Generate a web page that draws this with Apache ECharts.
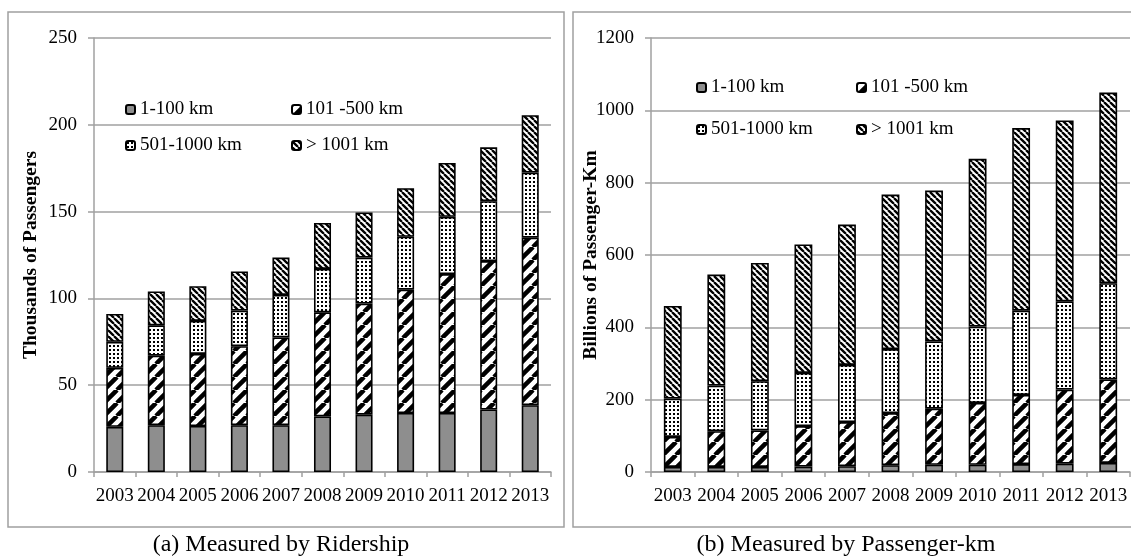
<!DOCTYPE html>
<html><head><meta charset="utf-8">
<script src="https://cdn.jsdelivr.net/npm/echarts@6/dist/echarts.min.js"></script>
<style>html,body{margin:0;padding:0;background:#fff}#c{width:1131px;height:556px}</style>
</head><body><div id="c"></div>
<script>
const years = ['2003','2004','2005','2006','2007','2008','2009','2010','2011','2012','2013'];
const seriesNames = ['1-100 km','101 -500 km','501-1000 km','> 1001 km'];
// (a) Ridership, thousands of passengers
const ride_1_100    = [26, 27, 26.5, 27, 27, 32, 33, 34, 34, 36, 38.5];
const ride_101_500  = [34, 40, 41.5, 45.5, 50.5, 60, 64, 71, 80, 85.5, 96.5];
const ride_501_1000 = [15, 17.5, 19, 20.5, 24.5, 25, 26.5, 30.5, 33, 34.5, 37.5];
const ride_1001     = [16, 19.5, 20, 22.5, 21.5, 26.5, 26, 28, 31, 31, 33];
// (b) Passenger-km, billions
const pkm_1_100    = [14, 14, 14, 15, 16, 19, 20, 20, 22, 23, 25];
const pkm_101_500  = [83, 99, 101, 112, 122, 144, 155, 171, 191, 205, 231];
const pkm_501_1000 = [106, 126, 136, 147, 158, 177, 186, 211, 233, 244, 266];
const pkm_1001     = [256, 307, 327, 355, 388, 427, 417, 464, 505, 500, 527];

function tile(size, draw){
  const c=document.createElement('canvas'); c.width=size; c.height=size;
  const g=c.getContext('2d'); g.fillStyle='#fff'; g.fillRect(0,0,size,size); draw(g,size);
  return {image:c, repeat:'repeat'};
}
const patGray = '#8e8e8e';
const patFwd = tile(13,(g,s)=>{g.strokeStyle='#000';g.lineWidth=4.5;g.beginPath();
  for(const x0 of [-s,0,s]){g.moveTo(x0,s);g.lineTo(x0+s,0);} g.stroke();});
const patDots = tile(4,(g,s)=>{g.fillStyle='#000';g.fillRect(1,1,2,2);});
const patBack = tile(6,(g,s)=>{g.strokeStyle='#000';g.lineWidth=2.3;g.beginPath();
  for(const x0 of [-s,0,s]){g.moveTo(x0,0);g.lineTo(x0+s,s);} g.stroke();});
const fills=[patGray,patFwd,patDots,patBack];

const FONT='"Liberation Serif", "Times New Roman", serif';
const chart=echarts.init(document.getElementById('c'),null,{renderer:'canvas'});

function mkSeries(datas, idx, stack){
  return datas.map((d,i)=>({
    name: seriesNames[i], type:'bar', stack, xAxisIndex:idx, yAxisIndex:idx,
    data:d, barWidth:'41%',
    itemStyle:{color:fills[i], borderColor:'#000', borderWidth:1.6},
    emphasis:{disabled:true}
  }));
}
function xAx(idx){return {type:'category', gridIndex:idx, data:years,
  axisLine:{lineStyle:{color:'#a0a0a0',width:1.5}},
  axisTick:{show:true, length:5, lineStyle:{color:'#a0a0a0',width:1.5}},
  axisLabel:{color:'#000', fontFamily:FONT, fontSize:19, margin:15, interval:0}};}
function yAx(idx,max,interval,name,gap){return {type:'value', gridIndex:idx, min:0, max, interval,
  name, nameLocation:'middle', nameGap:gap, nameMoveOverlap:false,
  nameTextStyle:{color:'#000', fontFamily:FONT, fontSize:19.5, fontWeight:'bold'},
  axisLine:{show:true,lineStyle:{color:'#a0a0a0',width:1.5}},
  axisTick:{show:true,length:6,lineStyle:{color:'#a0a0a0',width:1.5}},
  splitLine:{lineStyle:{color:'#a0a0a0',width:1.5}},
  axisLabel:{color:'#000', fontFamily:FONT, fontSize:19, margin:17, formatter:v=>String(v)}};}
function leg(name,left,top){return {data:[name], left, top, orient:'horizontal',
  itemWidth:9,itemHeight:9,itemTextGap:5, selectedMode:false,
  textStyle:{color:'#000',fontFamily:FONT,fontSize:19}};}

chart.setOption({
  animation:false,
  grid:[{left:94,right:580,top:38,bottom:84},{left:651,right:1,top:38,bottom:84}],
  xAxis:[xAx(0),xAx(1)],
  yAxis:[yAx(0,250,50,'Thousands of Passengers',53), yAx(1,1200,200,'Billions of Passenger-Km',50)],
  legend:[leg(seriesNames[0],120,95), leg(seriesNames[1],286,95),
          leg(seriesNames[2],120,131), leg(seriesNames[3],286,131),
          leg(seriesNames[0],691,73), leg(seriesNames[1],851,73),
          leg(seriesNames[2],691,115), leg(seriesNames[3],851,115)],
  series:[...mkSeries([ride_1_100,ride_101_500,ride_501_1000,ride_1001],0,'a'),
          ...mkSeries([pkm_1_100,pkm_101_500,pkm_501_1000,pkm_1001],1,'b')],
  graphic:[
    {type:'rect',shape:{x:8,y:12,width:556,height:515},style:{fill:'none',stroke:'#a0a0a0',lineWidth:1.5},silent:true},
    {type:'rect',shape:{x:573,y:12,width:570,height:515},style:{fill:'none',stroke:'#a0a0a0',lineWidth:1.5},silent:true},
    {type:'text',x:281,y:545,style:{text:'(a) Measured by Ridership',font:'24px '+FONT,fill:'#000',textAlign:'center',textVerticalAlign:'middle'},silent:true},
    {type:'text',x:846,y:545,style:{text:'(b) Measured by Passenger-km',font:'24px '+FONT,fill:'#000',textAlign:'center',textVerticalAlign:'middle'},silent:true}
  ]
});
</script></body></html>
